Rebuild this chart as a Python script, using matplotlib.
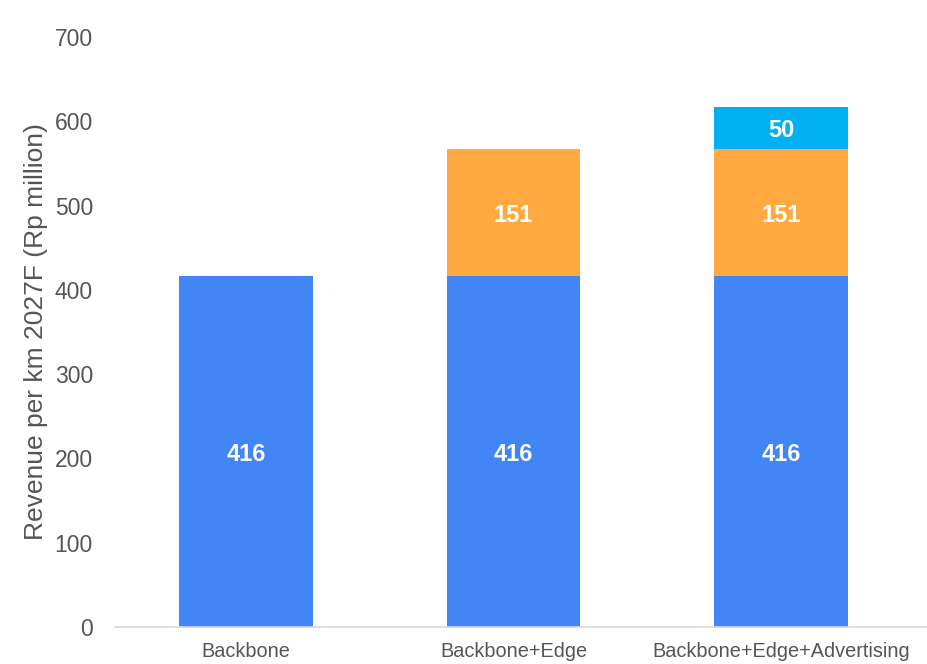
import matplotlib.pyplot as plt
import numpy as np

plt.rcParams['font.family'] = ['Liberation Sans', 'DejaVu Sans']

categories = ['Backbone', 'Backbone+Edge', 'Backbone+Edge+Advertising']
backbone = [416, 416, 416]
edge = [0, 151, 151]
advertising = [0, 0, 50]

colors = ['#4285F4', '#FFA940', '#00B0F0']

fig = plt.figure(figsize=(9.28, 6.64), dpi=100)
ax = fig.add_axes([0.124, 0.0557, 0.876, 0.8887])

x = np.arange(len(categories))
bottom = np.zeros(len(categories))
for vals, c in zip([backbone, edge, advertising], colors):
    vals = np.array(vals, dtype=float)
    ax.bar(x, vals, width=0.5, bottom=bottom, color=c, linewidth=0)
    for xi, b, v in zip(x, bottom, vals):
        if v > 0:
            ax.text(xi, b + v / 2 - 3, f'{v:.0f}', ha='center', va='center',
                    color='white', fontsize=17, fontweight='bold')
    bottom += vals

ax.set_xlim(-0.49, 2.55)
ax.set_ylim(0, 700)
ax.set_yticks(range(0, 701, 100))
ax.set_xticks(x)
ax.set_xticklabels(categories, fontsize=14.3, color='#555555')
ax.tick_params(axis='y', length=0, labelsize=16.5, labelcolor='#555555', pad=16)
ax.tick_params(axis='x', length=0, pad=11)
ax.set_ylabel('Revenue per km 2027F (Rp million)', fontsize=19, color='#555555', labelpad=5)

for s in ['top', 'right', 'left']:
    ax.spines[s].set_visible(False)
ax.spines['bottom'].set_color('#d9d9d9')
ax.spines['bottom'].set_linewidth(1.2)

fig.savefig('out.png', dpi=100)
